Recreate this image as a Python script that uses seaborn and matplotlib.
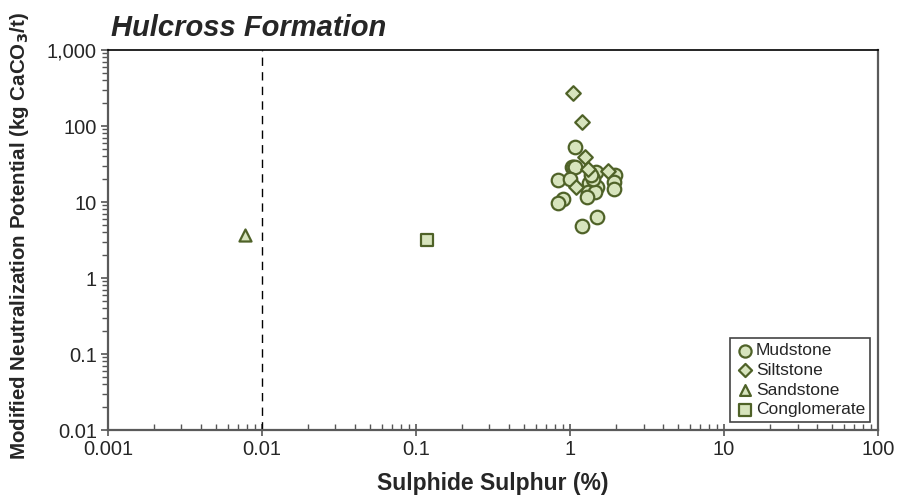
import numpy as np
import pandas as pd
import matplotlib
matplotlib.use("Agg")
import matplotlib.pyplot as plt
from matplotlib.ticker import LogLocator, FixedLocator, NullFormatter
import seaborn as sns

# Sulphide sulphur (%) and modified neutralization potential (kg CaCO3/t)
mud_s = [1.07, 1.03, 1.05, 1.08, 0.83, 1.00, 1.47, 1.96, 1.94, 1.92, 1.33, 1.49,
         1.31, 1.45, 1.28, 0.905, 0.83, 1.49, 1.20, 1.41, 1.36]
mud_np = [53.4, 28.6, 28.6, 28.6, 19.5, 20.1, 25.0, 22.7, 18.5, 14.7, 17.9, 15.9,
          13.7, 13.7, 11.7, 10.9, 9.8, 6.3, 4.9, 20.0, 23.0]
silt_s = [1.04, 1.20, 1.26, 1.31, 1.77, 1.09]
silt_np = [269, 114, 39.5, 26.9, 25.8, 15.6]
sand_s = [0.00776]
sand_np = [3.68]
cong_s = [0.118]
cong_np = [3.16]

x_ticks = [0.001, 0.01, 0.1, 1, 10, 100]
x_labels = ["0.001", "0.01", "0.1", "1", "10", "100"]
y_ticks = [0.01, 0.1, 1, 10, 100, 1000]
y_labels = ["0.01", "0.1", "1", "10", "100", "1,000"]

df = pd.concat([
    pd.DataFrame({"s": mud_s, "np": mud_np, "rock": "Mudstone"}),
    pd.DataFrame({"s": silt_s, "np": silt_np, "rock": "Siltstone"}),
    pd.DataFrame({"s": sand_s, "np": sand_np, "rock": "Sandstone"}),
    pd.DataFrame({"s": cong_s, "np": cong_np, "rock": "Conglomerate"}),
], ignore_index=True)

sns.set_style("white")
plt.rcParams["font.family"] = ["Liberation Sans", "DejaVu Sans"]

fill = "#d7e4bd"
edge = "#4f6228"
text_col = "#262626"

fig = plt.figure(figsize=(8.99, 5.0), dpi=100)
ax = fig.add_axes([0.1201, 0.14, 0.8566, 0.76])

markers = {"Mudstone": "o", "Siltstone": "D", "Sandstone": "^", "Conglomerate": "s"}
sizes = {"Mudstone": 95, "Siltstone": 55, "Sandstone": 75, "Conglomerate": 80}
for rock in ["Mudstone", "Siltstone", "Sandstone", "Conglomerate"]:
    sub = df[df["rock"] == rock]
    sns.scatterplot(data=sub, x="s", y="np", marker=markers[rock], s=sizes[rock],
                    color=fill, edgecolor=edge, linewidth=1.6, ax=ax,
                    label=rock, zorder=3)

ax.set_xscale("log")
ax.set_yscale("log")
ax.set_xlim(0.001, 100)
ax.set_ylim(0.01, 1000)

ax.axvline(0.01, color="black", linestyle=(0, (6, 4.5)), linewidth=1.0, zorder=2)

ax.xaxis.set_major_locator(FixedLocator(x_ticks))
ax.set_xticklabels(x_labels)
ax.yaxis.set_major_locator(FixedLocator(y_ticks))
ax.set_yticklabels(y_labels)
ax.xaxis.set_minor_locator(LogLocator(base=10, subs=np.arange(2, 10)))
ax.yaxis.set_minor_locator(LogLocator(base=10, subs=np.arange(2, 10)))
ax.xaxis.set_minor_formatter(NullFormatter())
ax.yaxis.set_minor_formatter(NullFormatter())

ax.tick_params(axis="x", which="both", bottom=True, top=False)
ax.tick_params(axis="y", which="both", left=True, right=False)
ax.tick_params(axis="x", which="major", direction="inout", length=8, width=1.2,
               colors="#555555", labelcolor=text_col, labelsize=14.5, pad=3)
ax.tick_params(axis="x", which="minor", direction="in", length=4, width=1.0, colors="#555555")
ax.tick_params(axis="y", which="major", direction="out", length=5, width=1.2,
               colors="#555555", labelcolor=text_col, labelsize=14.5, pad=3)
ax.tick_params(axis="y", which="minor", direction="out", length=4, width=1.0, colors="#555555")

for side in ["left", "bottom", "right"]:
    ax.spines[side].set_color("#5a5a5a")
    ax.spines[side].set_linewidth(1.6)
ax.spines["top"].set_color("black")
ax.spines["top"].set_linewidth(1.2)
for sp in ax.spines.values():
    sp.set_visible(True)

ax.set_xlabel("Sulphide Sulphur (%)", fontsize=16.5, fontweight="bold", color=text_col)
ax.xaxis.set_label_coords(0.5, -0.11)
ax.set_ylabel(r"Modified Neutralization Potential (kg CaCO$_\mathbf{3}$/t)", fontsize=14.8,
              fontweight="bold", color=text_col)
ax.yaxis.set_label_coords(-0.10, 0.51)

fig.text(0.123, 0.943, "Hulcross Formation", fontsize=21, fontweight="bold",
         fontstyle="italic", color=text_col, va="center", ha="left")

handles, labels = ax.get_legend_handles_labels()
leg = ax.legend(handles, labels, loc="lower right", bbox_to_anchor=(0.99, 0.02),
                fontsize=12.5, frameon=True, fancybox=False, edgecolor="#444444",
                framealpha=1, borderpad=0.3, handletextpad=0.1, labelspacing=0.26,
                handlelength=1.1, markerscale=0.9, borderaxespad=0)
leg.get_frame().set_linewidth(1.2)
for t in leg.get_texts():
    t.set_color(text_col)

fig.savefig("out.png", dpi=100)
